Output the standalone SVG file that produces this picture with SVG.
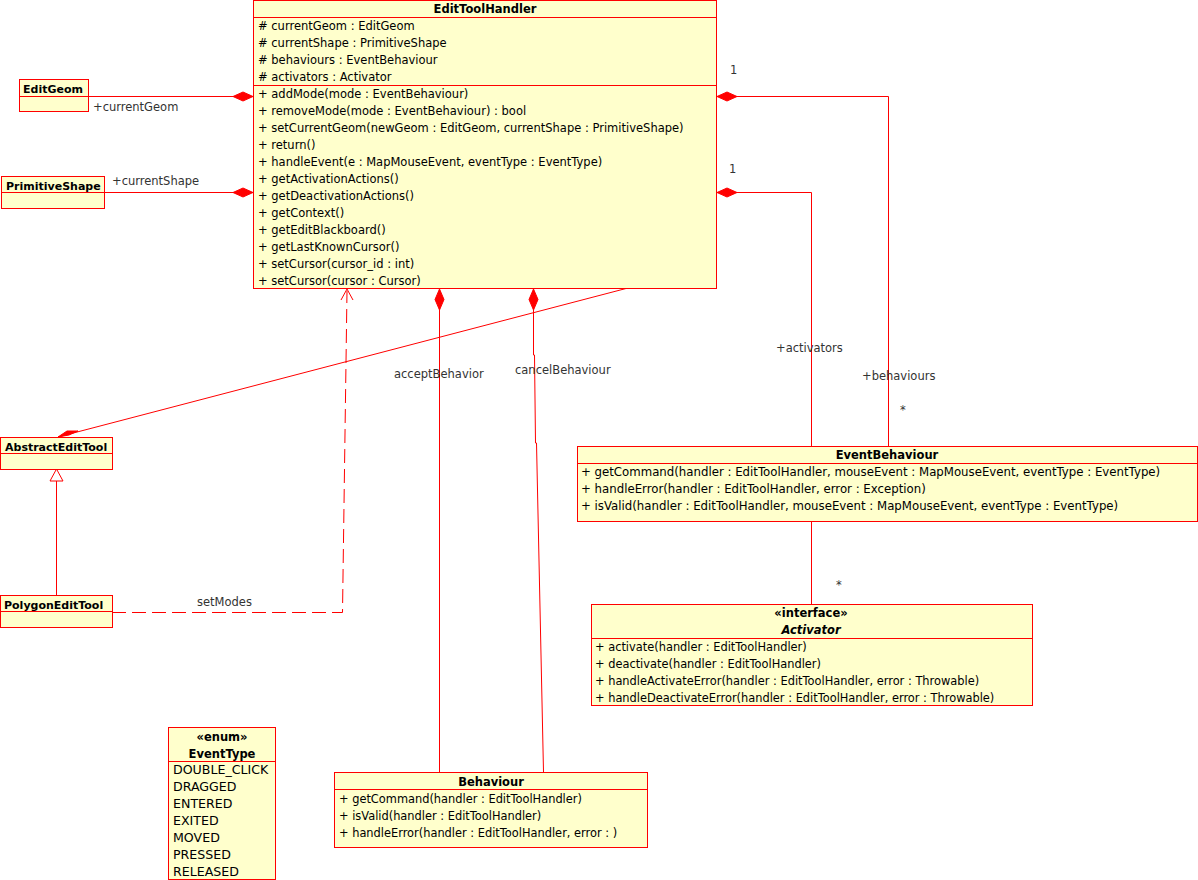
<svg xmlns="http://www.w3.org/2000/svg" width="1198" height="880" viewBox="0 0 1198 880">
<style>
.box{fill:#FFFFCC;stroke:#FF0000;stroke-width:1}
.div{stroke:#FF0000;stroke-width:1}
.t{font-family:"DejaVu Sans",sans-serif;font-size:11.5px;fill:#000}
.b{font-weight:bold;text-anchor:middle}
.sb{font-weight:bold;font-size:11px}
.eb{font-size:11.75px}
.ac{font-size:11.4px}
.en{font-size:12.6px}
.lbl{font-family:"DejaVu Sans",sans-serif;font-size:11.5px;fill:#333}
.ln{stroke:#FF0000;stroke-width:1;fill:none}
.dash{stroke-dasharray:14,6}
.dm{fill:#FF0000;stroke:#FF0000}
</style>
<rect width="1198" height="880" fill="#fff"/>
<g id="connectors">
  <line class="ln" x1="88.5" y1="96.5" x2="253" y2="96.5"/>
  <polygon class="dm" points="253,96.5 243,92 233,96.5 243,101"/>
  <line class="ln" x1="104.5" y1="192.5" x2="253" y2="192.5"/>
  <polygon class="dm" points="253,192.5 243,188 233,192.5 243,197"/>
  <polyline class="ln" points="717,96.5 888.5,96.5 888.5,446"/>
  <polygon class="dm" points="717,96.5 727,92 737,96.5 727,101"/>
  <polyline class="ln" points="717,192.5 811.5,192.5 811.5,446"/>
  <polygon class="dm" points="717,192.5 727,188 737,192.5 727,197"/>
  <line class="ln" x1="811.5" y1="521" x2="811.5" y2="604"/>
  <line class="ln" x1="626" y1="288.5" x2="58" y2="437"/>
  <polygon class="dm" points="58,437 67,431 78,431 69,435"/>
  <line class="ln" x1="56.5" y1="596" x2="56.5" y2="481"/>
  <polygon points="56.5,469 50,481 63,481" fill="#fff" stroke="#FF0000"/>
  <polyline class="ln dash" points="112,612.5 342.5,612.5 347,291"/>
  <polyline class="ln" points="341,300 347,289 353,300"/>
  <line class="ln" x1="439.5" y1="310" x2="439.5" y2="772"/>
  <polygon class="dm" points="439.5,289 444,299.5 439.5,310 435,299.5"/>
  <polyline class="ln" points="533.5,310 533.5,355 534.5,355 535.5,443 536.5,443 543.5,772"/>
  <polygon class="dm" points="533.5,289 538,299.5 533.5,310 529,299.5"/>
  <text class="lbl" x="93" y="111">+currentGeom</text>
  <text class="lbl" x="112" y="185">+currentShape</text>
  <text class="lbl" x="730" y="74">1</text>
  <text class="lbl" x="729" y="173">1</text>
  <text class="lbl" x="776" y="352">+activators</text>
  <text class="lbl" x="862" y="380">+behaviours</text>
  <text class="lbl" x="900" y="414">*</text>
  <text class="lbl" x="836" y="589">*</text>
  <text class="lbl" x="197" y="606">setModes</text>
  <text class="lbl" x="394" y="378">acceptBehavior</text>
  <text class="lbl" x="515" y="374">cancelBehaviour</text>
</g>
<g id="EditToolHandler">
  <rect class="box" x="253.5" y="0.5" width="463" height="288"/>
  <line class="div" x1="253" y1="17.5" x2="717" y2="17.5"/>
  <line class="div" x1="253" y1="85.5" x2="717" y2="85.5"/>
  <text class="t b" x="485" y="13">EditToolHandler</text>
  <text class="t" x="258" y="30">#  currentGeom : EditGeom</text>
  <text class="t" x="258" y="47">#  currentShape : PrimitiveShape</text>
  <text class="t" x="258" y="64">#  behaviours : EventBehaviour</text>
  <text class="t" x="258" y="81">#  activators : Activator</text>
  <text class="t" x="258" y="98">+  addMode(mode : EventBehaviour)</text>
  <text class="t" x="258" y="115">+  removeMode(mode : EventBehaviour) : bool</text>
  <text class="t" x="258" y="132">+  setCurrentGeom(newGeom : EditGeom, currentShape : PrimitiveShape)</text>
  <text class="t" x="258" y="149">+  return()</text>
  <text class="t" x="258" y="166">+  handleEvent(e : MapMouseEvent, eventType : EventType)</text>
  <text class="t" x="258" y="183">+  getActivationActions()</text>
  <text class="t" x="258" y="200">+  getDeactivationActions()</text>
  <text class="t" x="258" y="217">+  getContext()</text>
  <text class="t" x="258" y="234">+  getEditBlackboard()</text>
  <text class="t" x="258" y="251">+  getLastKnownCursor()</text>
  <text class="t" x="258" y="268">+  setCursor(cursor_id : int)</text>
  <text class="t" x="258" y="285">+  setCursor(cursor : Cursor)</text>
</g>
<g id="EditGeom">
  <rect class="box" x="19.5" y="79.5" width="69" height="32"/>
  <line class="div" x1="19" y1="96.5" x2="89" y2="96.5"/>
  <text class="t sb" x="23" y="93">EditGeom</text>
</g>
<g id="PrimitiveShape">
  <rect class="box" x="1.5" y="176.5" width="103" height="32"/>
  <line class="div" x1="1" y1="192.5" x2="105" y2="192.5"/>
  <text class="t sb" x="6" y="190">PrimitiveShape</text>
</g>
<g id="AbstractEditTool">
  <rect class="box" x="0.5" y="437.5" width="112" height="32"/>
  <line class="div" x1="0" y1="453.5" x2="113" y2="453.5"/>
  <text class="t sb" x="5" y="451">AbstractEditTool</text>
</g>
<g id="PolygonEditTool">
  <rect class="box" x="0.5" y="595.5" width="112" height="32"/>
  <line class="div" x1="0" y1="611.5" x2="113" y2="611.5"/>
  <text class="t sb" x="4" y="609">PolygonEditTool</text>
</g>
<g id="EventBehaviour">
  <rect class="box" x="577.5" y="446.5" width="620" height="75"/>
  <line class="div" x1="577" y1="463.5" x2="1198" y2="463.5"/>
  <text class="t b" x="887" y="459">EventBehaviour</text>
  <text class="t eb" x="581" y="476">+ getCommand(handler : EditToolHandler, mouseEvent : MapMouseEvent, eventType : EventType)</text>
  <text class="t eb" x="581" y="493">+ handleError(handler : EditToolHandler, error : Exception)</text>
  <text class="t eb" x="581" y="510">+ isValid(handler : EditToolHandler, mouseEvent : MapMouseEvent, eventType : EventType)</text>
</g>
<g id="Activator">
  <rect class="box" x="591.5" y="604.5" width="441" height="101"/>
  <line class="div" x1="591" y1="638.5" x2="1033" y2="638.5"/>
  <text class="t b" x="811" y="617">«interface»</text>
  <text class="t b" x="811" y="634" font-style="italic">Activator</text>
  <text class="t ac" x="595" y="651">+ activate(handler : EditToolHandler)</text>
  <text class="t ac" x="595" y="668">+ deactivate(handler : EditToolHandler)</text>
  <text class="t ac" x="595" y="685">+ handleActivateError(handler : EditToolHandler, error : Throwable)</text>
  <text class="t ac" x="595" y="702">+ handleDeactivateError(handler : EditToolHandler, error : Throwable)</text>
</g>
<g id="Behaviour">
  <rect class="box" x="334.5" y="772.5" width="313" height="75"/>
  <line class="div" x1="334" y1="789.5" x2="648" y2="789.5"/>
  <text class="t b" x="491" y="786">Behaviour</text>
  <text class="t ac" x="339" y="803">+  getCommand(handler : EditToolHandler)</text>
  <text class="t ac" x="339" y="820">+  isValid(handler : EditToolHandler)</text>
  <text class="t ac" x="339" y="837">+  handleError(handler : EditToolHandler, error : )</text>
</g>
<g id="EventType">
  <rect class="box" x="168.5" y="727.5" width="107" height="152"/>
  <line class="div" x1="168" y1="761.5" x2="276" y2="761.5"/>
  <text class="t b" x="222" y="741">«enum»</text>
  <text class="t b" x="222" y="758">EventType</text>
  <text class="t en" x="173" y="774">DOUBLE_CLICK</text>
  <text class="t en" x="173" y="791">DRAGGED</text>
  <text class="t en" x="173" y="808">ENTERED</text>
  <text class="t en" x="173" y="825">EXITED</text>
  <text class="t en" x="173" y="842">MOVED</text>
  <text class="t en" x="173" y="859">PRESSED</text>
  <text class="t en" x="173" y="876">RELEASED</text>
</g>
</svg>
